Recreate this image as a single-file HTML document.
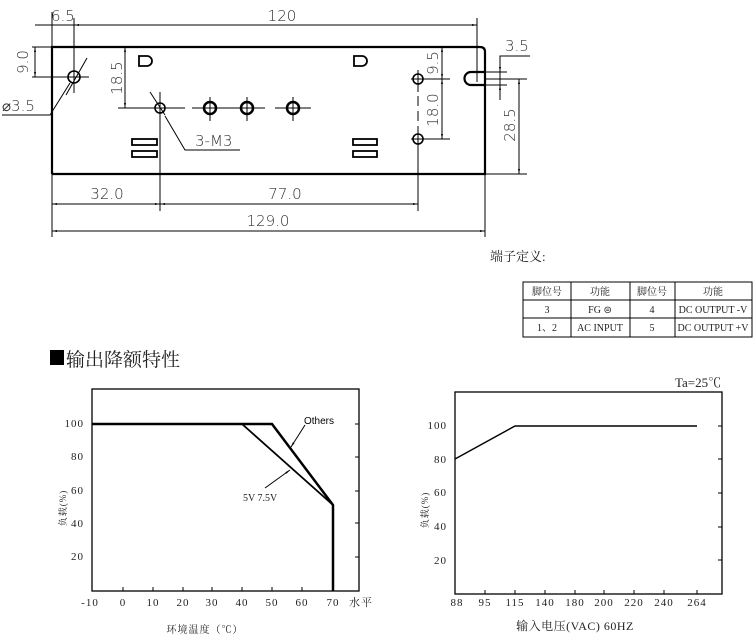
<!DOCTYPE html>
<html><head><meta charset="utf-8"><style>
html,body{margin:0;padding:0;background:#fff;width:755px;height:641px;overflow:hidden}
svg{display:block}
.d{font-family:"DejaVu Sans","Liberation Sans",sans-serif;font-size:15px;fill:#333;font-weight:200}
.s{font-family:"Liberation Serif","Noto Serif CJK SC",serif;font-size:10px;fill:#222}
.t{font-family:"Liberation Serif","Noto Serif CJK SC",serif;font-size:11px;fill:#222;letter-spacing:1px}
.c{font-family:"Liberation Serif","Noto Serif CJK SC",serif;fill:#222}
</style></head><body>
<svg width="755" height="641" viewBox="0 0 755 641" xmlns="http://www.w3.org/2000/svg">
<defs><marker id="a" viewBox="0 0 10 10" refX="10" refY="5" markerWidth="7" markerHeight="5" orient="auto-start-reverse"><path d="M0,3 L10,5 L0,7z" fill="#000"/></marker></defs>
<g stroke="#000" fill="none" stroke-width="1">
<path d="M52,174 V47 H480 Q485,47 485,52 V85 H471 A6.5,6.5 0 0 1 471,72 H485 M485,85 V174 H52" stroke-width="2.2"/>
<line x1="52" y1="12" x2="52" y2="237"/>
<line x1="74" y1="18" x2="74" y2="93"/>
<line x1="477" y1="18" x2="477" y2="82"/>
<line x1="485" y1="174" x2="485" y2="237"/>
<line x1="35" y1="25" x2="74" y2="25"/>
<line x1="74" y1="25" x2="477" y2="25" marker-start="url(#a)" marker-end="url(#a)"/>
<line x1="32" y1="47" x2="52" y2="47"/>
<line x1="32" y1="77" x2="89" y2="77"/>
<line x1="35" y1="47" x2="35" y2="77" marker-start="url(#a)" marker-end="url(#a)"/>
<circle cx="74" cy="77" r="6" stroke-width="1.6"/>
<line x1="66" y1="95" x2="87" y2="58"/>
<polyline points="2,115 50,115 70,83"/>
<line x1="118" y1="108" x2="185" y2="108"/>
<line x1="125" y1="47" x2="125" y2="108" marker-start="url(#a)" marker-end="url(#a)"/>
<circle cx="160" cy="108" r="5" stroke-width="1.6"/>
<line x1="160" y1="92" x2="160" y2="211"/>
<line x1="150" y1="92" x2="165" y2="115"/>
<polyline points="240,150 185,150 165,116"/>
<line x1="192" y1="108" x2="228" y2="108"/><line x1="228" y1="108" x2="265" y2="108"/><line x1="275" y1="108" x2="311" y2="108"/>
<line x1="210" y1="97" x2="210" y2="121"/><line x1="247" y1="97" x2="247" y2="121"/><line x1="293" y1="97" x2="293" y2="121"/>
<circle cx="210" cy="108" r="6" stroke-width="2.5"/><circle cx="247" cy="108" r="6" stroke-width="2.5"/><circle cx="293" cy="108" r="6" stroke-width="2.5"/>
<path d="M139,56 H147 A5,5 0 0 1 147,66 H139 Z" stroke-width="1.8"/>
<path d="M354,56 H362 A5,5 0 0 1 362,66 H354 Z" stroke-width="1.8"/>
<rect x="132" y="139" width="25" height="6" stroke-width="1.8"/><rect x="132" y="151" width="25" height="6" stroke-width="1.8"/>
<rect x="353" y="139" width="24" height="6" stroke-width="1.8"/><rect x="353" y="151" width="24" height="6" stroke-width="1.8"/>
<circle cx="418" cy="79" r="5" stroke-width="1.6"/><circle cx="418" cy="139" r="5" stroke-width="1.6"/>
<line x1="411" y1="79" x2="450" y2="79"/><line x1="411" y1="139" x2="450" y2="139"/>
<line x1="418" y1="70" x2="418" y2="92"/><line x1="418" y1="96" x2="418" y2="106" /><line x1="418" y1="111" x2="418" y2="121"/><line x1="418" y1="126" x2="418" y2="211"/>
<line x1="442" y1="47" x2="442" y2="79" marker-start="url(#a)" marker-end="url(#a)"/>
<line x1="442" y1="79" x2="442" y2="139" marker-start="url(#a)" marker-end="url(#a)"/>
<polyline points="500,100 500,56 530,56"/>
<line x1="480" y1="72" x2="507" y2="72"/><line x1="480" y1="85" x2="507" y2="85"/>
<line x1="500" y1="62" x2="500" y2="72" marker-end="url(#a)"/><line x1="500" y1="95" x2="500" y2="85" marker-end="url(#a)"/>
<line x1="485" y1="79" x2="527" y2="79"/><line x1="485" y1="174" x2="527" y2="174"/>
<line x1="519" y1="79" x2="519" y2="174" marker-start="url(#a)" marker-end="url(#a)"/>
<line x1="52" y1="204" x2="160" y2="204" marker-start="url(#a)" marker-end="url(#a)"/>
<line x1="160" y1="204" x2="418" y2="204" marker-start="url(#a)" marker-end="url(#a)"/>
<line x1="52" y1="231" x2="485" y2="231" marker-start="url(#a)" marker-end="url(#a)"/>
</g>
<g class="d">
<text x="51" y="21">6.5</text><text x="282" y="21" text-anchor="middle">120</text>
<text x="2" y="111">⌀3.5</text>
<text x="195" y="146">3-M3</text>
<text x="505" y="51">3.5</text>
<text x="107" y="199" text-anchor="middle">32.0</text><text x="285" y="199" text-anchor="middle">77.0</text><text x="268" y="226" text-anchor="middle">129.0</text>
<text transform="translate(28,62) rotate(-90)" text-anchor="middle">9.0</text>
<text transform="translate(122,78) rotate(-90)" text-anchor="middle">18.5</text>
<text transform="translate(438,63) rotate(-90)" text-anchor="middle">9.5</text>
<text transform="translate(438,110) rotate(-90)" text-anchor="middle">18.0</text>
<text transform="translate(515,125) rotate(-90)" text-anchor="middle">28.5</text>
</g>
<text class="c" x="490" y="261" font-size="13">端子定义:</text>
<g stroke="#000" fill="none" stroke-width="1">
<rect x="523" y="282" width="229" height="55"/>
<line x1="523" y1="300" x2="752" y2="300"/><line x1="523" y1="318" x2="752" y2="318"/>
<line x1="571" y1="282" x2="571" y2="337"/><line x1="630" y1="282" x2="630" y2="337"/><line x1="675" y1="282" x2="675" y2="337"/>
</g>
<g class="s" text-anchor="middle">
<text x="547" y="295">脚位号</text><text x="600" y="295">功能</text><text x="652" y="295">脚位号</text><text x="713" y="295">功能</text>
<text x="547" y="313">3</text><text x="600" y="313">FG ⊜</text><text x="652" y="313">4</text><text x="713" y="313">DC OUTPUT -V</text>
<text x="547" y="331">1、2</text><text x="600" y="331">AC INPUT</text><text x="652" y="331">5</text><text x="713" y="331">DC OUTPUT +V</text>
</g>
<rect x="50" y="350" width="14" height="15" fill="#000"/>
<text class="c" x="66" y="366" font-size="19">输出降额特性</text>
<g stroke="#000" fill="none">
<rect x="92" y="389" width="267" height="202" stroke-width="1.3"/>
<g stroke-width="1">
<path d="M123,591v-4M153,591v-4M183,591v-4M212,591v-4M242,591v-4M272,591v-4M302,591v-4M333,591v-4"/>
<path d="M359,424h-4M359,457h-4M359,491h-4M359,523h-4M359,557h-4"/>
</g>
<polyline points="92,424 272,424 333,505 333,591" stroke-width="2.5"/>
<line x1="242" y1="424" x2="333" y2="505" stroke-width="1.8"/>
<line x1="305" y1="425" x2="291" y2="447" marker-end="url(#a)"/>
<line x1="265" y1="488" x2="290" y2="470" marker-end="url(#a)"/>
</g>
<g class="t" text-anchor="middle">
<text x="84" y="427" text-anchor="end">100</text><text x="84" y="460" text-anchor="end">80</text><text x="84" y="494" text-anchor="end">60</text><text x="84" y="527" text-anchor="end">40</text><text x="84" y="560" text-anchor="end">20</text>
<text x="90" y="606">-10</text><text x="123" y="606">0</text><text x="153" y="606">10</text><text x="183" y="606">20</text><text x="212" y="606">30</text><text x="242" y="606">40</text><text x="272" y="606">50</text><text x="302" y="606">60</text><text x="333" y="606">70</text><text x="361" y="606">水平</text>
<text x="205" y="633" font-size="10">环境温度（℃）</text>
<text transform="translate(66,508) rotate(-90)" font-size="9">负载(%)</text>
</g>
<text x="304" y="424" font-family="Liberation Sans,sans-serif" font-size="10" fill="#000">Others</text>
<text x="243" y="501" class="s" font-size="12">5V 7.5V</text>
<g stroke="#000" fill="none">
<rect x="455" y="392" width="267" height="202" stroke-width="1.3"/>
<g stroke-width="1">
<path d="M485,594v-4M515,594v-4M545,594v-4M575,594v-4M604,594v-4M634,594v-4M664,594v-4M697,594v-4"/>
<path d="M722,426h-4M722,459h-4M722,493h-4M722,527h-4M722,560h-4"/>
</g>
<polyline points="455,459 515,426 697,426" stroke-width="1.4"/>
</g>
<g class="t" text-anchor="middle">
<text x="447" y="429" text-anchor="end">100</text><text x="447" y="463" text-anchor="end">80</text><text x="447" y="496" text-anchor="end">60</text><text x="447" y="530" text-anchor="end">40</text><text x="447" y="564" text-anchor="end">20</text>
<text x="457" y="606">88</text><text x="485" y="606">95</text><text x="515" y="606">115</text><text x="545" y="606">140</text><text x="575" y="606">180</text><text x="604" y="606">200</text><text x="634" y="606">220</text><text x="664" y="606">240</text><text x="697" y="606">264</text>
<text x="575" y="630" font-size="12" letter-spacing="0.5">输入电压(VAC) 60HZ</text>
<text transform="translate(428,510) rotate(-90)" font-size="9">负载(%)</text>
</g>
<text class="c" x="675" y="387" font-size="13">Ta=25℃</text>
</svg>
</body></html>
